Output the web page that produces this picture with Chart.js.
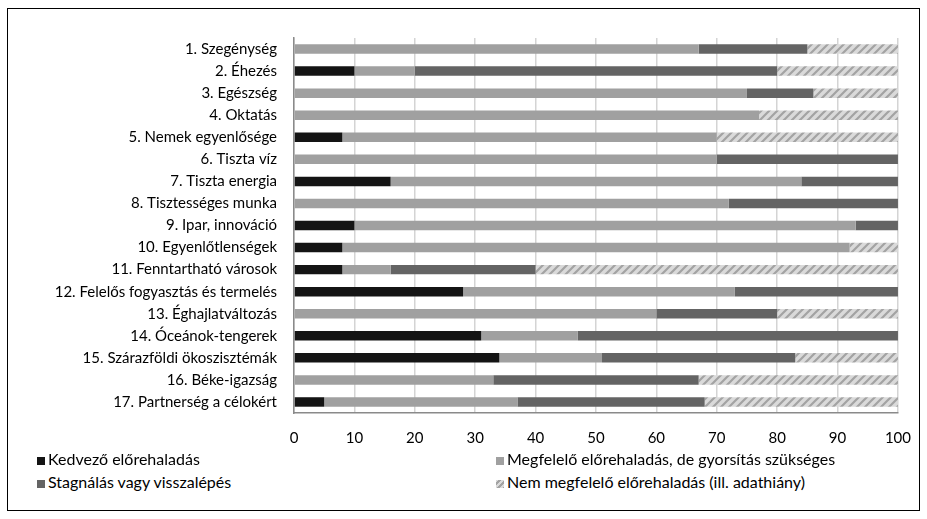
<!DOCTYPE html>
<html>
<head>
<meta charset="utf-8">
<script src="https://cdn.jsdelivr.net/npm/chart.js@4.4.0/dist/chart.umd.min.js"></script>
<style>
  body { margin: 0; background: #fff; font-family: Lato, sans-serif; }
  #frame { position: absolute; left: 7px; top: 8px; width: 911px; height: 501px; border: 1px solid #000; }
  #wrap { position: absolute; left: 0; top: 0; width: 927px; height: 455px; }
  #legend { position: absolute; left: 37px; top: 448px; width: 880px; font-size: 16px; color: #000; }
  .item { position: absolute; white-space: nowrap; line-height: 22px; }
  .sw { display: inline-block; width: 8px; height: 8px; margin-right: 3px; vertical-align: 0px; }
</style>
</head>
<body>
<div id="frame"></div>
<div id="wrap"><canvas id="chart"></canvas></div>
<div id="legend"></div>
<script>
// celok
const categories = [
  "1. Szegénység", "2. Éhezés", "3. Egészség", "4. Oktatás",
  "5. Nemek egyenlősége", "6. Tiszta víz", "7. Tiszta energia",
  "8. Tisztességes munka", "9. Ipar, innováció", "10. Egyenlőtlenségek",
  "11. Fenntartható városok", "12. Felelős fogyasztás és termelés",
  "13. Éghajlatváltozás", "14. Óceánok-tengerek",
  "15. Szárazföldi ökoszisztémák", "16. Béke-igazság",
  "17. Partnerség a célokért"
];

const seriesNames = [
  "Kedvező előrehaladás",
  "Megfelelő előrehaladás, de gyorsítás szükséges",
  "Stagnálás vagy visszalépés",
  "Nem megfelelő előrehaladás (ill. adathiány)"
];

const kedvezo   = [0, 10, 0, 0, 8, 0, 16, 0, 10, 8, 8, 28, 0, 31, 34, 0, 5];
const megfelelo = [67, 10, 75, 77, 62, 70, 68, 72, 83, 84, 8, 45, 60, 16, 17, 33, 32];
const stagnalas = [18, 60, 11, 0, 0, 30, 16, 28, 7, 0, 24, 27, 20, 53, 32, 34, 31];
const nemMegf   = [15, 20, 14, 23, 30, 0, 0, 0, 0, 8, 60, 0, 20, 0, 17, 33, 32];

const xTicks = [0, 10, 20, 30, 40, 50, 60, 70, 80, 90, 100];

//Csikos minta a negyedik sorozathoz
function makeHatch() {
  const c = document.createElement("canvas");
  c.width = 8;
  c.height = 8;
  const g = c.getContext("2d");
  g.fillStyle = "#dadada";
  g.fillRect(0, 0, 8, 8);
  g.strokeStyle = "#a3a3a3";
  g.lineWidth = 2.2;
  g.beginPath();
  g.moveTo(-2, 10); g.lineTo(10, -2);
  g.moveTo(-6, 6); g.lineTo(6, -6);
  g.moveTo(2, 14); g.lineTo(14, 2);
  g.stroke();
  return g.createPattern(c, "repeat");
}
const hatch = makeHatch();

const colors = ["#141414", "#a0a0a0", "#646464", hatch];
const allData = [kedvezo, megfelelo, stagnalas, nemMegf];

const ctx = document.getElementById("chart");
new Chart(ctx, {
  type: "bar",
  data: {
    labels: categories,
    datasets: allData.map((d, i) => ({
      label: seriesNames[i],
      data: d,
      backgroundColor: colors[i],
      borderWidth: 0,
      barPercentage: 1,
      categoryPercentage: 0.43
    }))
  },
  options: {
    indexAxis: "y",
    responsive: true,
    maintainAspectRatio: false,
    animation: false,
    layout: { padding: { top: 38, right: 28, left: 0, bottom: 0 } },
    plugins: { legend: { display: false }, tooltip: { enabled: false } },
    scales: {
      x: {
        stacked: true,
        min: 0,
        max: 100,
        afterBuildTicks: (s) => { s.ticks = xTicks.map((v) => ({ value: v })); },
        afterFit: (s) => { s.height = 42; },
        grid: { color: "#d4d4d4", lineWidth: 1.5, drawTicks: false },
        border: { display: true, color: "#8a8a8a", width: 1.5 },
        ticks: { color: "#000", font: { family: "Lato", size: 15 }, padding: 16, maxRotation: 0 }
      },
      y: {
        stacked: true,
        afterFit: (s) => { s.width = 294; },
        grid: { display: false, drawTicks: false },
        border: { display: true, color: "#8a8a8a", width: 1.5 },
        ticks: { color: "#000", font: { family: "Lato", size: 15 }, padding: 17, autoSkip: false }
      }
    }
  }
});

//Leirás (legend) két oszlopban
const legend = document.getElementById("legend");
const pos = [[0, 0], [459, 0], [0, 23], [459, 23]];
seriesNames.forEach((name, i) => {
  const it = document.createElement("div");
  it.className = "item";
  it.style.left = pos[i][0] + "px";
  it.style.top = pos[i][1] + "px";
  const sw = document.createElement("span");
  sw.className = "sw";
  if (i === 3) {
    sw.style.background = "repeating-linear-gradient(135deg, #dadada 0 2px, #a3a3a3 2px 4px)";
  } else {
    sw.style.background = colors[i];
  }
  it.appendChild(sw);
  it.appendChild(document.createTextNode(name));
  legend.appendChild(it);
});
</script>
</body>
</html>
